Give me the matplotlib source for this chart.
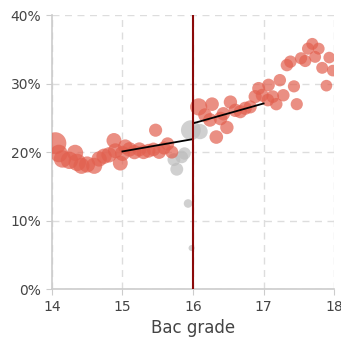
import numpy as np
import matplotlib.pyplot as plt
from matplotlib.ticker import FuncFormatter

# binned students: bac grade, share (%), number of students
red_grade = [14.05, 14.10, 14.15, 14.25, 14.33, 14.36, 14.42, 14.50, 14.60, 14.67,
             14.74, 14.81, 14.88, 14.90, 14.97, 15.00, 15.04, 15.10, 15.17, 15.24,
             15.30, 15.37, 15.44, 15.47, 15.52, 15.59, 15.64, 15.70,
             16.08, 16.17, 16.24, 16.27, 16.33, 16.39, 16.43, 16.48, 16.53, 16.60,
             16.67, 16.74, 16.81, 16.88, 16.93, 16.98, 17.06, 17.07, 17.13, 17.18,
             17.23, 17.28, 17.33, 17.38, 17.43, 17.47, 17.53, 17.59, 17.63, 17.69,
             17.73, 17.78, 17.83, 17.89, 17.93, 17.98]
red_share = [21.3, 19.8, 19.0, 18.8, 19.9, 18.5, 18.0, 18.2, 18.0, 19.0,
             19.4, 19.6, 21.7, 20.2, 18.4, 19.8, 20.8, 20.4, 20.0, 20.4,
             20.0, 20.2, 20.4, 23.2, 20.0, 20.6, 21.2, 20.0,
             26.6, 25.4, 24.7, 27.0, 22.2, 24.9, 25.6, 23.6, 27.3, 26.1,
             25.9, 26.4, 26.6, 28.1, 29.3, 28.3, 27.6, 29.8, 28.1, 27.0,
             30.5, 28.3, 32.7, 33.2, 29.6, 27.0, 33.7, 33.3, 35.1, 35.8,
             33.9, 35.1, 32.3, 29.7, 33.8, 31.9]
red_n = [780, 500, 490, 490, 420, 490, 420, 420, 420, 380,
         380, 380, 360, 360, 360, 360, 340, 340, 330, 320,
         320, 310, 300, 280, 300, 280, 280, 270,
         480, 300, 300, 300, 300, 300, 290, 290, 290, 290,
         280, 280, 280, 280, 270, 270, 260, 260, 260, 250,
         250, 250, 250, 250, 240, 240, 240, 240, 240, 230,
         230, 230, 230, 220, 220, 220]

gray_grade = [15.73, 15.77, 15.84, 15.88, 15.93, 15.98, 15.97, 16.10]
gray_share = [18.9, 17.5, 19.3, 19.8, 12.5, 6.0, 23.2, 23.0]
gray_n = [270, 270, 260, 250, 120, 60, 640, 380]

threshold = 16
fit_left_x, fit_left_y = [15, 16], [20.1, 21.9]
fit_right_x, fit_right_y = [16, 17], [24.2, 27.1]

fig, ax = plt.subplots(figsize=(3.41, 3.43), dpi=100)
fig.subplots_adjust(left=0.152, right=0.98, top=0.956, bottom=0.157)

k = 0.32
ax.scatter(gray_grade, gray_share, s=np.array(gray_n) * k, color="#bdbdbd", alpha=0.7,
           linewidths=0, zorder=3)
ax.scatter(red_grade, red_share, s=np.array(red_n) * k, color="#e2604f", alpha=0.7,
           linewidths=0, zorder=3)
ax.plot(fit_left_x, fit_left_y, color="black", lw=1.3, zorder=4)
ax.plot(fit_right_x, fit_right_y, color="black", lw=1.3, zorder=4)
ax.axvline(threshold, color="#8b0a0a", lw=1.5, zorder=5)

ax.set_xlim(14, 18)
ax.set_ylim(0, 40)
ax.set_xticks([14, 15, 16, 17, 18])
ax.set_yticks([0, 10, 20, 30, 40])
ax.yaxis.set_major_formatter(FuncFormatter(lambda v, p: f"{v:.0f}%"))
ax.grid(True, color="#dddddd", linestyle=(0, (5, 4)), lw=1)
ax.set_axisbelow(True)
for side in ["top", "right"]:
    ax.spines[side].set_visible(False)
for side in ["left", "bottom"]:
    ax.spines[side].set_color("#cccccc")
    ax.spines[side].set_linewidth(1.2)
ax.tick_params(colors="#cccccc", labelcolor="#444444", labelsize=10, length=4)
ax.set_xlabel("Bac grade", fontsize=12, color="#444444", labelpad=4)

fig.savefig("out.png", dpi=100)
